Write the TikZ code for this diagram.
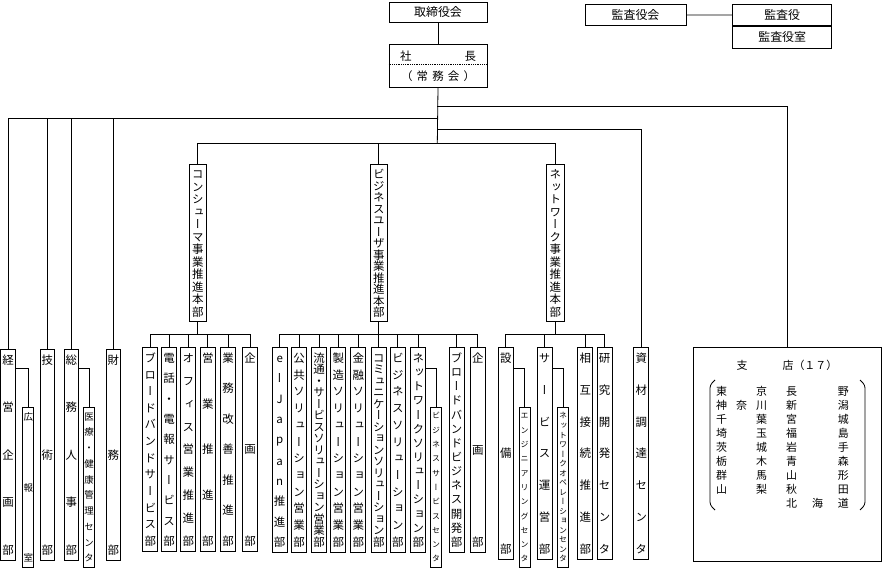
\documentclass[tikz,border=0pt]{standalone}
\usepackage{fontspec}
\setmainfont{Noto Sans CJK JP}
\newfontfamily\tatefont[RawFeature=+vert]{Noto Sans CJK JP}
% 縦書き（均等割付）
\newcommand\tate[2]{\vbox to #1{\tatefont\offinterlineskip\expandafter\tateA#2\relax}}
\def\tateA#1{\tatechar{#1}\tateB}
\def\tateB#1{\ifx#1\relax\else\vskip 0pt plus 1fill minus 1fill\tatechar{#1}\expandafter\tateB\fi}
\newcommand\tatechar[1]{\hbox to 1.1em{\hss\vrule height .88em depth .12em width 0pt#1\hss}}
% 横書き（均等割付）
\newcommand\yoko[2]{\hbox to #1{\expandafter\yokoA#2\relax}}
\def\yokoA#1{#1\yokoB}
\def\yokoB#1{\ifx#1\relax\else\hfill#1\expandafter\yokoB\fi}
\begin{document}
\begin{tikzpicture}[x=1bp, y=-1bp, line width=0.8bp,
  every node/.style={font=\fontsize{11.5}{12}\selectfont, inner sep=0pt},
  ybox/.style={draw, anchor=north, minimum width=98bp, font=\fontsize{12}{13}\selectfont},
  tbox/.style={draw, anchor=north, minimum width=15bp},
  tsmall/.style={tbox, minimum width=11bp, minimum height=159.5bp, font=\fontsize{8}{9}\selectfont},
  shitenfont/.style={font=\fontsize{11}{12}\selectfont}]
  \useasboundingbox (0,0) rectangle (882,568);
  % 1. 取締役会・社長・監査役
  \node[ybox, minimum height=20bp] (tori) at (438,2) {取締役会};
  \node[ybox, minimum height=42.5bp, align=center, font=\fontsize{11.5}{12}\selectfont] (shacho) at (438,44.3)
    {\makebox[76bp]{社\hfill 長}\\[8bp]\makebox[74bp]{（\hfill 常\hfill 務\hfill 会\hfill ）}};
  \draw[densely dotted] (shacho.west |- 0,64) -- (shacho.east |- 0,64);
  \node[ybox, minimum width=101bp, minimum height=21.5bp] (kansakai) at (635.5,4) {監査役会};
  \node[ybox, minimum width=99bp, minimum height=21bp] (kansa) at (782.2,4) {監査役};
  \node[ybox, minimum width=99bp, minimum height=22.3bp] (kansashitsu) at (kansa.south) {監査役室};
  \draw (tori) -- (shacho);
  \draw (kansakai) -- (kansa);

  % 2. 事業推進本部
  \node[tbox, minimum width=17bp, minimum height=157bp] (consumer) at (197.8,164.3) {\tate{148bp}{コンシューマ事業推進本部}};
  \node[tbox, minimum width=17bp, minimum height=157bp] (business) at (378.8,164.3) {\tate{148bp}{ビジネスユーザ事業推進本部}};
  \node[tbox, minimum width=18bp, minimum height=157bp] (network) at (555.3,164.3) {\tate{148bp}{ネットワーク事業推進本部}};

  % 3. 本社部門
  \foreach \n/\x/\lbl in {keiei/8/経営企画部, gijutsu/47.3/技術部, soumu/71.3/総務人事部, zaimu/113.3/財務部}
    \node[tbox, minimum width=14.5bp, minimum height=210.7bp] (\n) at (\x,349.3) {\tate{200bp}{\lbl}};
  \node[tsmall, font=\fontsize{9.5}{10}\selectfont] (kouhou) at (28.3,407.3) {\tate{150bp}{広報室}};
  \node[tsmall, font=\fontsize{9.5}{10}\selectfont] (iryou) at (89,407.3) {\tate{150bp}{医療・健康管理センタ}};

  % 4. 各本部の部
  \foreach \n/\x/\lbl in {c1/150.3/ブロードバンドサービス部, c2/169/電話・電報サービス部, c3/188.3/オフィス営業推進部,
      c4/207.8/営業推進部, c5/228/業務改善推進部, c6/250/企画部}
    \node[tbox, minimum height=203.7bp] (\n) at (\x,347.3) {\tate{193bp}{\lbl}};
  \foreach \n/\x/\lbl in {b1/279.7/eーJapan推進部, b2/299.2/公共ソリューション営業部, b3/319.2/流通・サービスソリューション営業部,
      b4/338.3/製造ソリューション営業部, b5/358.3/金融ソリューション営業部, b6/378.8/コミュニケーションソリューション部,
      b7/397.8/ビジネスソリューション部, b8/418.3/ネットワークソリューション部, b9/456.7/ブロードバンドビジネス開発部, b10/477.8/企画部}
    \node[tbox, minimum height=204.7bp] (\n) at (\x,347.3) {\tate{194bp}{\lbl}};
  \node[tsmall] (bizserv) at (436.2,407.3) {\tate{150bp}{ビジネスサービスセンタ}};
  \foreach \n/\x/\lbl in {n1/505.8/設備部, n2/544.7/サービス運営部, n3/585.3/相互接続推進部, n4/604.7/研究開発センタ, shizai/641.3/資材調達センタ}
    \node[tbox, minimum height=211.7bp] (\n) at (\x,347.3) {\tate{201bp}{\lbl}};
  \node[tsmall] (engineering) at (524.5,407.3) {\tate{150bp}{エンジニアリングセンタ}};
  \node[tsmall] (netope) at (563,407.3) {\tate{150bp}{ネットワークオペレーションセンタ}};

  % 5. 支店
  \node[draw, anchor=north west, minimum width=188bp, minimum height=214bp] (shiten) at (693.3,347.3) {};
  \node[anchor=west, shitenfont] (shitenmei) at (736.2,365) {支\hspace{35bp}店（１７）};
  \foreach \l [count=\i] in {東京,神奈川,千葉,埼玉,茨城,栃木,群馬,山梨}
    \node[shitenfont] (west\i) at (741.7,{377.8+13.9*\i}) {\yoko{51bp}{\l}};
  \foreach \r [count=\i] in {長野,新潟,宮城,福島,岩手,青森,山形,秋田,北海道}
    \node[shitenfont] (east\i) at (817.5,{377.8+13.9*\i}) {\yoko{62.6bp}{\r}};
  \draw[rounded corners=3bp] (715,380) -- (710,385) -- (710,505) -- (715,510);
  \draw[rounded corners=3bp] (860,380) -- (865,385) -- (865,505) -- (860,510);

  % 6. 結線
  \coordinate (j106) at (437.3,106.3);
  \coordinate (j118) at (437.3,118.3);
  \coordinate (j129) at (437.3,129.3);
  \coordinate (j143) at (437.3,143.3);
  \draw (shacho.south) -- (j143);
  \draw (j106) -| (shiten.north);
  \draw (j129) -| (shizai.north);
  \draw (j118) -| (keiei.north);
  \foreach \n in {gijutsu,soumu,zaimu}
    \draw (\n.north) -- (\n.north |- j118);
  \draw (consumer.north) |- (j143) -| (network.north);
  \draw (business.north) -- (business.north |- j143);
  \draw (keiei.north east) ++(0,19) -| (kouhou.north);
  \draw (soumu.north east) ++(0,19) -| (iryou.north);

  \draw (consumer.south) -- ++(0,12) coordinate (cbus);
  \draw (c1.north) |- (c6.north |- cbus) -- (c6.north);
  \foreach \n in {c2,c3,c4,c5}
    \draw (\n.north) -- (\n.north |- cbus);
  \draw (business.south) -- ++(0,12.7) coordinate (bbus);
  \draw (b1.north) |- (b10.north |- bbus) -- (b10.north);
  \foreach \n in {b2,b3,b4,b5,b6,b7,b8,b9}
    \draw (\n.north) -- (\n.north |- bbus);
  \draw (b8.north east) ++(0,21) -| (bizserv.north);
  \draw (network.south) -- ++(0,12) coordinate (nbus);
  \draw (n1.north) |- (n4.north |- nbus) -- (n4.north);
  \foreach \n in {n2,n3}
    \draw (\n.north) -- (\n.north |- nbus);
  \draw (n1.north east) ++(0,21) -| (engineering.north);
  \draw (n2.north east) ++(0,21) -| (netope.north);
\end{tikzpicture}
\end{document}
